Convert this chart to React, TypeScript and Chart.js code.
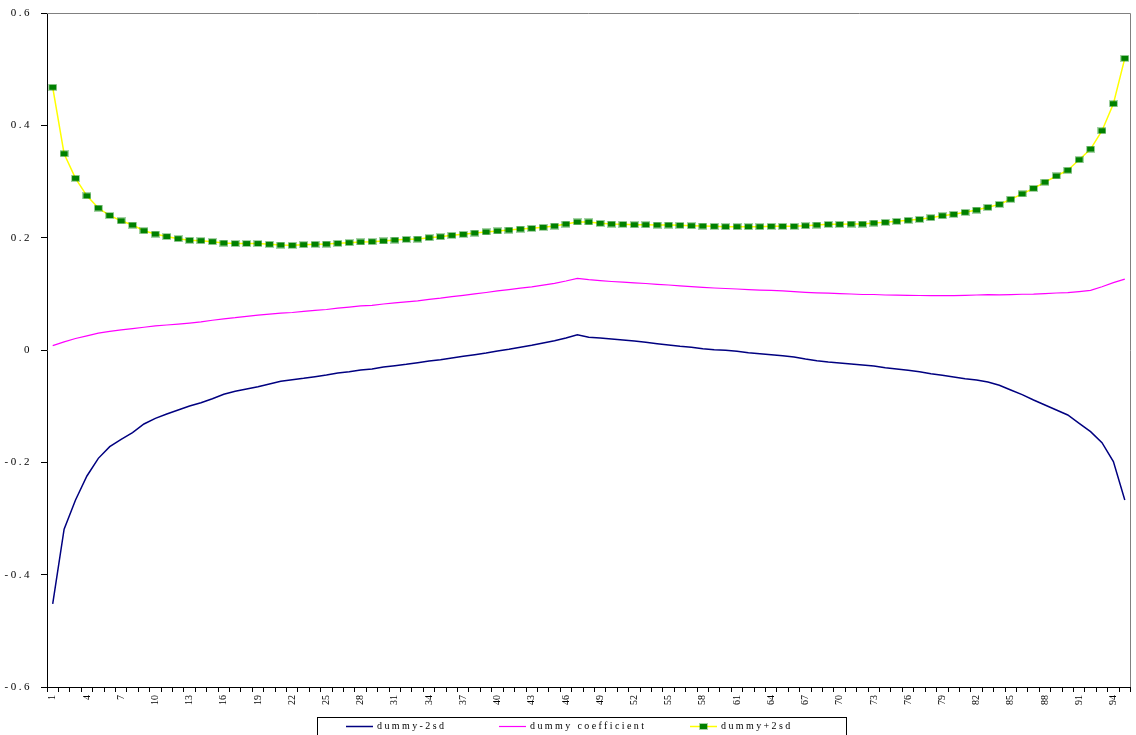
import { useEffect, useRef } from "react";
import { Chart, registerables } from "chart.js";

Chart.register(...registerables);

const categories = [
  "1","2","3","4","5","6","7","8","9","10","11","12","13","14","15","16","17","18","19","20",
  "21","22","23","24","25","26","27","28","29","30","31","32","33","34","35","36","37","38","39","40",
  "41","42","43","44","45","46","47","48","49","50","51","52","53","54","55","56","57","58","59","60",
  "61","62","63","64","65","66","67","68","69","70","71","72","73","74","75","76","77","78","79","80",
  "81","82","83","84","85","86","87","88","89","90","91","92","93","94","95",
];

const shownTickLabels = [
  "1","4","7","10","13","16","19","22","25","28","31","34","37","40","43","46","49","52","55","58",
  "61","64","67","70","73","76","79","82","85","88","91","94",
];

const yTickValues = [-0.6, -0.4, -0.2, 0, 0.2, 0.4, 0.6];

const lowerValues = [
  -0.452, -0.319, -0.267, -0.2243, -0.1929, -0.172, -0.159, -0.1472, -0.1317, -0.1217,
  -0.1139, -0.1068, -0.0997, -0.0938, -0.0867, -0.0789, -0.0736, -0.0694, -0.0653, -0.0605,
  -0.0558, -0.0528, -0.0504, -0.0475, -0.0445, -0.0409, -0.0386, -0.0356, -0.0338, -0.0303,
  -0.0279, -0.0255, -0.0226, -0.0196, -0.0172, -0.0142, -0.0113, -0.0083, -0.0053, -0.0018,
  0.0012, 0.0047, 0.0083, 0.0125, 0.0166, 0.0214, 0.0273, 0.0226, 0.0214, 0.0196,
  0.0178, 0.016, 0.0137, 0.0113, 0.0089, 0.0065, 0.0047, 0.0024, 0.0006, -0.0006,
  -0.0024, -0.0047, -0.0065, -0.0083, -0.0101, -0.0125, -0.016, -0.019, -0.0214, -0.0231,
  -0.0249, -0.0267, -0.0285, -0.0315, -0.0338, -0.0362, -0.0386, -0.0421, -0.0451, -0.0481,
  -0.051, -0.0534, -0.057, -0.0629, -0.0712, -0.0795, -0.089, -0.0979, -0.1068, -0.1157,
  -0.1306, -0.1454, -0.165, -0.1988, -0.267,
];

const coefValues = [
  0.0077, 0.0145, 0.0205, 0.0252, 0.03, 0.0333, 0.0358, 0.0382, 0.0405, 0.043,
  0.0445, 0.046, 0.0478, 0.05, 0.053, 0.0555, 0.0575, 0.06, 0.062, 0.0638,
  0.0656, 0.0668, 0.0686, 0.0704, 0.0721, 0.0745, 0.0763, 0.0784, 0.0796, 0.0819,
  0.084, 0.0858, 0.0875, 0.0902, 0.0923, 0.095, 0.0973, 0.1, 0.1024, 0.1051,
  0.1074, 0.1101, 0.1125, 0.1155, 0.1187, 0.1229, 0.1276, 0.1253, 0.1235, 0.122,
  0.1208, 0.1196, 0.1184, 0.1169, 0.1157, 0.1142, 0.113, 0.1116, 0.1104, 0.1095,
  0.1086, 0.1075, 0.1066, 0.106, 0.1051, 0.1039, 0.1027, 0.1018, 0.1012, 0.1003,
  0.0997, 0.0988, 0.0988, 0.0979, 0.0977, 0.0974, 0.097, 0.0968, 0.097, 0.0967,
  0.0971, 0.0979, 0.0985, 0.0982, 0.0986, 0.0993, 0.0994, 0.1005, 0.1015, 0.1022,
  0.1041, 0.1062, 0.1127, 0.1199, 0.1262,
];

const upperValues = [
  0.4677, 0.3495, 0.3057, 0.2745, 0.2528, 0.2394, 0.23, 0.2225, 0.2124, 0.2065,
  0.202, 0.1982, 0.1953, 0.1947, 0.1929, 0.1905, 0.1896, 0.1896, 0.1896, 0.1882,
  0.1869, 0.1863, 0.1875, 0.1882, 0.1887, 0.1899, 0.1911, 0.1923, 0.1929, 0.1941,
  0.1958, 0.197, 0.1976, 0.2, 0.2017, 0.2041, 0.2059, 0.2083, 0.2101, 0.2119,
  0.2136, 0.2154, 0.2166, 0.2184, 0.2207, 0.2243, 0.2279, 0.2279, 0.2255, 0.2243,
  0.2237, 0.2231, 0.2231, 0.2225, 0.2225, 0.2219, 0.2213, 0.2207, 0.2202, 0.2196,
  0.2196, 0.2196, 0.2196, 0.2202, 0.2202, 0.2202, 0.2213, 0.2225, 0.2237, 0.2237,
  0.2243, 0.2243, 0.2261, 0.2273, 0.2291, 0.2309, 0.2326, 0.2356, 0.2391, 0.2415,
  0.2451, 0.2492, 0.254, 0.2593, 0.2683, 0.278, 0.2878, 0.2988, 0.3098, 0.3201,
  0.3388, 0.3578, 0.3904, 0.4385, 0.5193,
];

const seriesNames = ["dummy-2sd", "dummy coefficient", "dummy+2sd"];
const seriesColors = ["#000080", "#FF00FF", "#FFFF00"];
const markerColor = "#008000";

const FONT = "'Liberation Serif', 'Times New Roman', serif";

function makeMarker(): HTMLCanvasElement {
  const c = document.createElement("canvas");
  c.width = 9;
  c.height = 7;
  const g = c.getContext("2d")!;
  g.fillStyle = "rgba(0,128,0,0.35)";
  g.fillRect(0, 0, 9, 7);
  g.fillStyle = markerColor;
  g.fillRect(1, 1, 7, 5);
  return c;
}

export default function App() {
  const ref = useRef<HTMLCanvasElement | null>(null);

  useEffect(() => {
    if (!ref.current) return;
    const marker = makeMarker();

    const framePlugin = {
      id: "frame",
      beforeDraw(chart: any) {
        const y = chart.scales.y;
        if (y && !y.__ls) {
          const orig = y.drawLabels.bind(y);
          y.drawLabels = (area: any) => {
            const c = chart.ctx;
            c.save();
            c.letterSpacing = "2.5px";
            orig(area);
            c.restore();
          };
          y.__ls = true;
        }
      },
      beforeDatasetsDraw(chart: any) {
        const { ctx, chartArea } = chart;
        ctx.save();
        ctx.strokeStyle = "#808080";
        ctx.lineWidth = 1;
        ctx.beginPath();
        ctx.moveTo(chartArea.left, Math.round(chartArea.top) + 0.5);
        ctx.lineTo(Math.round(chartArea.right) - 0.5, Math.round(chartArea.top) + 0.5);
        ctx.lineTo(Math.round(chartArea.right) - 0.5, chartArea.bottom);
        ctx.stroke();
        ctx.restore();
      },
      afterDraw(chart: any) {
        const { ctx } = chart;
        ctx.save();
        ctx.strokeStyle = "#000";
        ctx.lineWidth = 1;
        ctx.strokeRect(317.5, 717.5, 529, 40);
        const items = [346, 499, 690];
        const cy = 726.5;
        ctx.font = `10px ${FONT}`;
        ctx.textBaseline = "middle";
        ctx.textAlign = "left";
        ctx.letterSpacing = "2.4px";
        chart.data.datasets.forEach((ds: any, i: number) => {
          const x0 = items[i];
          ctx.strokeStyle = ds.borderColor;
          ctx.lineWidth = ds.borderWidth;
          ctx.beginPath();
          ctx.moveTo(x0, cy);
          ctx.lineTo(x0 + 27, cy);
          ctx.stroke();
          if (i === 2) {
            ctx.drawImage(marker, x0 + 13.5 - 4.5, cy - 3.5);
          }
          ctx.fillStyle = "#000";
          ctx.fillText(ds.label, x0 + 31, cy);
        });
        ctx.restore();
      },
    };

    const chart = new Chart(ref.current, {
      type: "line",
      data: {
        labels: categories,
        datasets: [
          {
            label: seriesNames[0],
            data: lowerValues,
            borderColor: seriesColors[0],
            backgroundColor: seriesColors[0],
            borderWidth: 1.5,
            pointRadius: 0,
            tension: 0,
          },
          {
            label: seriesNames[1],
            data: coefValues,
            borderColor: seriesColors[1],
            backgroundColor: seriesColors[1],
            borderWidth: 1.2,
            pointRadius: 0,
            tension: 0,
          },
          {
            label: seriesNames[2],
            data: upperValues,
            borderColor: seriesColors[2],
            backgroundColor: markerColor,
            borderWidth: 1.5,
            pointRadius: 3,
            pointStyle: marker as any,
            tension: 0,
          },
        ],
      },
      options: {
        responsive: false,
        animation: false,
        layout: { padding: { top: 13, right: 1, left: 0, bottom: 0 } },
        plugins: {
          legend: { display: false },
          tooltip: { enabled: false },
        },
        scales: {
          x: {
            type: "category",
            offset: true,
            border: { display: true, color: "#000", width: 1 },
            grid: {
              display: true,
              offset: true,
              drawOnChartArea: false,
              drawTicks: true,
              tickLength: 5,
              color: "#000",
            },
            ticks: {
              autoSkip: false,
              minRotation: 90,
              maxRotation: 90,
              padding: 3,
              color: "#000",
              font: { family: FONT, size: 10 },
              callback: (_v: any, idx: number) =>
                shownTickLabels.includes(categories[idx]) ? categories[idx] : "",
            },
            afterFit: (s: any) => {
              s.height = 48;
              s.paddingLeft = 0;
              s.paddingRight = 0;
              s.paddingTop = 0;
              s.paddingBottom = 0;
            },
          },
          y: {
            type: "linear",
            min: -0.6,
            max: 0.6,
            afterBuildTicks: (s: any) => {
              s.ticks = yTickValues.map((v) => ({ value: v }));
            },
            border: { display: true, color: "#000", width: 1 },
            grid: {
              display: true,
              drawOnChartArea: false,
              drawTicks: true,
              tickLength: 6,
              color: "#000",
            },
            ticks: {
              padding: 9,
              color: "#000",
              font: { family: FONT, size: 11 },
              callback: (v: any) => String(Math.round(Number(v) * 10) / 10),
            },
            afterFit: (s: any) => {
              s.width = 47;
              s.paddingLeft = 0;
              s.paddingRight = 0;
              s.paddingTop = 0;
              s.paddingBottom = 0;
            },
          },
        },
      },
      plugins: [framePlugin],
    });

    return () => chart.destroy();
  }, []);

  return (
    <div style={{ position: "absolute", left: 0, top: 0, width: 1136, height: 735, background: "#fff" }}>
      <canvas ref={ref} width={1136} height={735} style={{ display: "block" }} />
    </div>
  );
}
